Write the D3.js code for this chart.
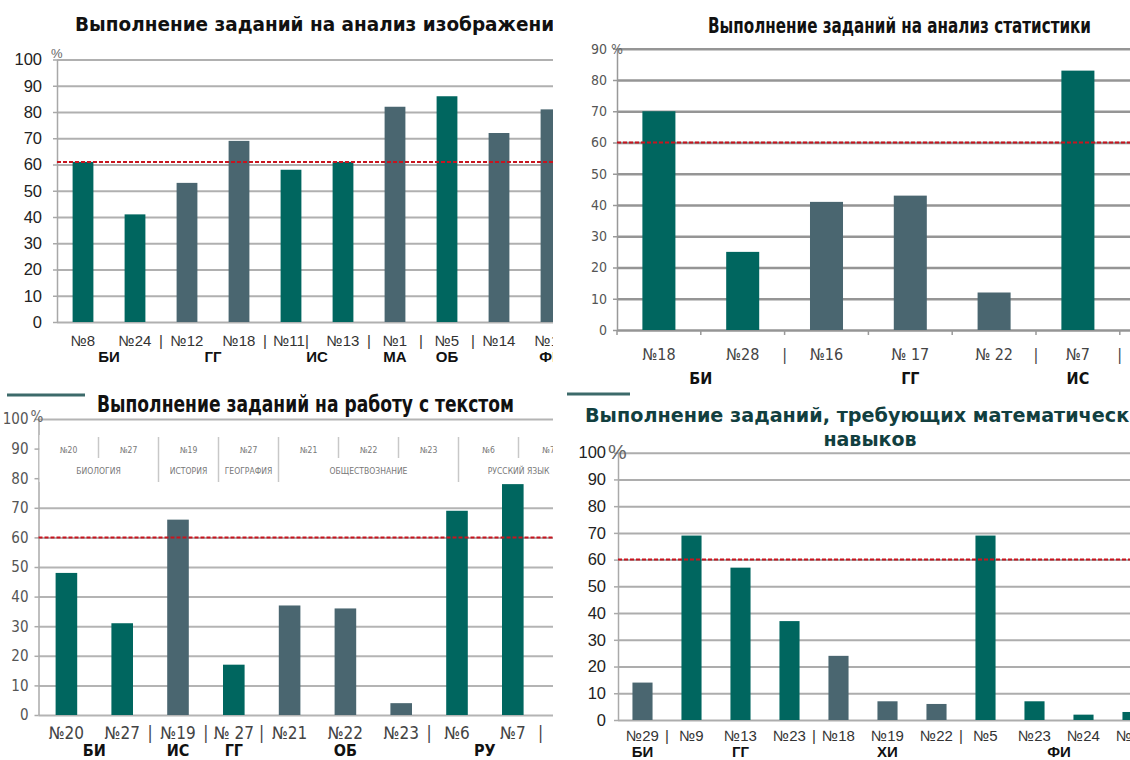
<!DOCTYPE html>
<html>
<head>
<meta charset="utf-8">
<script src="https://cdn.jsdelivr.net/npm/d3@7"></script>
<style>
  body { margin: 0; background: #fff; }
  svg { display: block; }
  text { white-space: pre; }
</style>
</head>
<body>
<svg id="chart" width="1130" height="760"></svg>
<script>
// --- data: анализ изображений
const imgTasks = ["№8", "№24", "№12", "№18", "№11|", "№13", "№1", "№5", "№14", "№16"]
const imgValues = [61, 41, 53, 69, 58, 61, 82, 86, 72, 81]
const imgGroups = [["БИ", 0, 1], ["ГГ", 2, 3], ["ИС", 4, 5], ["МА", 6, 6], ["ОБ", 7, 7], ["ФИ", 8, 10]]
const imgSeps = [2, 4, 6, 7, 8]
const imgLine = 61

// --- data: анализ статистики
const statTasks = ["№18", "№28", "№16", "№ 17", "№ 22", "№7"]
const statValues = [70, 25, 41, 43, 12, 83]
const statGroups = [["БИ", 0, 1], ["ГГ", 2, 4], ["ИС", 5, 5]]
const statSeps = [2, 5, 6]
const statLine = 60

// --- data: работа с текстом
const textTasks = ["№20", "№27", "№19", "№ 27", "№21", "№22", "№23", "№6", "№7"]
const textValues = [48, 31, 66, 17, 37, 36, 4, 69, 78]
const textGroups = [["БИ", 0, 1], ["ИС", 2, 2], ["ГГ", 3, 3], ["ОБ", 4, 6], ["РУ", 7, 8]]
const textSeps = [2, 3, 4, 7, 9]
const textLine = 60
const textTableTasks = ["№20", "№27", "№19", "№27", "№21", "№22", "№23", "№6", "№7"]
const textTableSubjects = [["БИОЛОГИЯ", 0, 1], ["ИСТОРИЯ", 2, 2], ["ГЕОГРАФИЯ", 3, 3], ["ОБЩЕСТВОЗНАНИЕ", 4, 6], ["РУССКИЙ ЯЗЫК", 7, 8]]

// --- data: математические навыки
const mathTasks = ["№29", "№9", "№13", "№23", "№18", "№19", "№22", "№5", "№23", "№24", "№25"]
const mathValues = [14, 69, 57, 37, 24, 7, 6, 69, 7, 2, 3]
const mathGroups = [["БИ", 0, 0], ["ГГ", 1, 3], ["ХИ", 4, 6], ["ФИ", 7, 10]]
const mathSeps = [1, 4, 7]
const mathLine = 60

const svg = d3.select("#chart")
const TEAL = "#00665f", SLATE = "#4a6670", RED = "#c8141e"
const ARIAL = "'Liberation Sans', Arial, sans-serif"
const NARROW = "'Liberation Sans Narrow', 'DejaVu Sans Condensed', 'Arial Narrow', sans-serif"
const VERDANA = "'DejaVu Sans', Verdana, sans-serif"

function drawPanel(p) {
    const clipId = "clip-" + p.id
    svg.append("clipPath").attr("id", clipId).append("rect")
        .attr("x", p.clip[0]).attr("y", p.clip[1])
        .attr("width", p.clip[2]).attr("height", p.clip[3])
    const g = svg.append("g").attr("clip-path", `url(#${clipId})`)
    const right = p.clip[0] + p.clip[2]

    const y = d3.scaleLinear().domain([0, p.yMax]).range([p.yBottom, p.yTop])
    const x = d3.scaleBand().domain(d3.range(p.bands))
        .range([p.left, p.left + p.bands * p.step])
        .paddingInner(p.pad).paddingOuter(p.pad / 2)
    const ticks = d3.range(0, p.yMax + 1, 10)

    // gridlines and tick labels
    const grid = g.append("g").attr("transform", `translate(${p.left},0)`)
        .call(d3.axisLeft(y).tickValues(ticks).tickSize(-(right - p.left)).tickPadding(p.tickPad))
    grid.select(".domain").remove()
    grid.selectAll(".tick line").attr("stroke", p.gridColor).attr("stroke-width", p.gridWidth)
    grid.selectAll(".tick text")
        .attr("font-family", p.tickFont).attr("font-size", p.tickSize).attr("fill", p.tickColor)

    // little outer ticks + axis line
    const ax = g.append("g").attr("transform", `translate(${p.left},0)`)
        .call(d3.axisLeft(y).tickValues(ticks).tickSize(4).tickSizeOuter(0).tickFormat(""))
    ax.selectAll("line, path").attr("stroke", p.axisColor).attr("stroke-width", 1.5)

    // table overlay (only the text panel has one)
    if (p.table) p.table(g, x)

    // percent sign
    g.append("text").attr("x", p.left + p.pct[0]).attr("y", y(p.yMax) + p.pct[1])
        .attr("font-family", p.pctFont || ARIAL).attr("font-size", p.pct[2]).attr("fill", "#666")
        .text("%")

    // bars
    const groupOf = i => p.groups.findIndex(gr => i >= gr[1] && i <= gr[2])
    g.selectAll("rect.bar").data(p.values).join("rect")
        .attr("class", "bar")
        .attr("x", (d, i) => x(i)).attr("width", x.bandwidth())
        .attr("y", d => y(d)).attr("height", d => y(0) - y(d))
        .attr("fill", (d, i) => (groupOf(i) + p.colorStart) % 2 === 0 ? TEAL : SLATE)

    // bottom tick marks
    if (p.bottomTicks) {
        g.selectAll("line.bt").data(d3.range(p.bands + 1)).join("line")
            .attr("x1", k => p.left + k * p.step).attr("x2", k => p.left + k * p.step)
            .attr("y1", y(0)).attr("y2", y(0) + 5)
            .attr("stroke", p.axisColor).attr("stroke-width", 1.5)
    }

    // threshold
    g.append("line").attr("x1", p.left).attr("x2", right)
        .attr("y1", y(p.line)).attr("y2", y(p.line))
        .attr("stroke", RED).attr("stroke-width", 2).attr("stroke-dasharray", "4,2")

    // task labels
    g.selectAll("text.task").data(p.tasks).join("text")
        .attr("class", "task")
        .attr("x", (d, i) => x(i) + x.bandwidth() / 2).attr("y", p.labelY)
        .attr("text-anchor", "middle")
        .attr("font-family", p.labelFont).attr("font-size", p.labelSize).attr("fill", p.labelColor)
        .text(d => d)
    g.selectAll("text.sep").data(p.seps).join("text")
        .attr("class", "sep")
        .attr("x", k => p.left + k * p.step).attr("y", p.labelY)
        .attr("text-anchor", "middle")
        .attr("font-family", p.labelFont).attr("font-size", p.labelSize).attr("fill", p.labelColor)
        .text("|")
    g.selectAll("text.grp").data(p.groups).join("text")
        .attr("class", "grp")
        .attr("x", d => (x(d[1]) + x(d[2]) + x.bandwidth()) / 2).attr("y", p.groupY)
        .attr("text-anchor", "middle")
        .attr("font-family", p.labelFont).attr("font-weight", "bold")
        .attr("font-size", p.groupSize).attr("fill", "#111")
        .text(d => d[0])

    // title
    p.title.forEach(t => {
        const tx = g.append("text").attr("x", t.x).attr("y", t.y)
            .attr("text-anchor", t.anchor || "start")
            .attr("font-family", t.font).attr("font-weight", "bold")
            .attr("font-size", t.size).attr("fill", t.color || "#111")
            .text(t.text)
        if (t.len) tx.attr("textLength", t.len).attr("lengthAdjust", "spacingAndGlyphs")
    })
    if (p.rule) {
        g.append("line").attr("x1", p.rule[0]).attr("x2", p.rule[1])
            .attr("y1", p.rule[2]).attr("y2", p.rule[2])
            .attr("stroke", "#3c6a6a").attr("stroke-width", 3)
    }
}

// top-left
drawPanel({
    id: "img", clip: [0, 0, 553, 380],
    tasks: imgTasks, values: imgValues, groups: imgGroups, seps: imgSeps, line: imgLine,
    colorStart: 0, bands: 11, left: 57, step: 52, pad: 0.6,
    yMax: 100, yBottom: 322, yTop: 59.5,
    gridColor: "#b0b0b0", gridWidth: 2, axisColor: "#a8a8a8",
    tickFont: ARIAL, tickSize: 16.5, tickColor: "#222", tickPad: 15,
    pct: [-6, -2, 13],
    labelFont: ARIAL, labelSize: 15, labelColor: "#333", labelY: 346, groupY: 362, groupSize: 15,
    title: [{ text: "Выполнение заданий на анализ изображений", x: 75, y: 31, font: VERDANA, size: 19.5, len: 492 }]
})

// top-right
drawPanel({
    id: "stat", clip: [560, 0, 570, 390],
    tasks: statTasks, values: statValues, groups: statGroups, seps: statSeps, line: statLine,
    colorStart: 0, bands: 6, left: 617, step: 83.8, pad: 0.606,
    yMax: 90, yBottom: 330, yTop: 48.75,
    gridColor: "#959595", gridWidth: 2.5, axisColor: "#999", bottomTicks: true,
    tickFont: NARROW, tickSize: 14, tickColor: "#555", tickPad: 10,
    pct: [-6, 5, 14], pctFont: NARROW,
    labelFont: NARROW, labelSize: 16, labelColor: "#444", labelY: 360, groupY: 384, groupSize: 16,
    title: [{ text: "Выполнение заданий на анализ статистики", x: 708, y: 33, font: NARROW, size: 21, len: 383 }]
})

// bottom-left
drawPanel({
    id: "text", clip: [0, 385, 553, 375],
    tasks: textTasks, values: textValues, groups: textGroups, seps: textSeps, line: textLine,
    colorStart: 0, bands: 9, left: 38.5, step: 55.8, pad: 0.613,
    yMax: 100, yBottom: 715, yTop: 419,
    gridColor: "#b4b4b4", gridWidth: 2, axisColor: "#aaa",
    tickFont: NARROW, tickSize: 15, tickColor: "#555", tickPad: 10,
    pct: [-8, 3, 15], pctFont: NARROW,
    labelFont: NARROW, labelSize: 17, labelColor: "#444", labelY: 739, groupY: 756, groupSize: 16,
    title: [{ text: "Выполнение заданий на работу с текстом", x: 97, y: 412, font: NARROW, size: 23, len: 417 }],
    rule: [7, 85, 395],
    table: (g, x) => {
        const col = 60, top = 435, bottom = 482, left = 38.5
        g.append("rect").attr("x", left + 1).attr("y", top).attr("width", 553 - left).attr("height", bottom - top)
            .attr("fill", "#fff")
        const cx = i => left + col * (i + 0.5)
        g.selectAll("text.tt").data(textTableTasks).join("text")
            .attr("class", "tt").attr("x", (d, i) => cx(i)).attr("y", top + 18)
            .attr("text-anchor", "middle").attr("font-family", NARROW).attr("font-size", 8.5)
            .attr("fill", "#777").text(d => d)
        g.selectAll("text.ts").data(textTableSubjects).join("text")
            .attr("class", "ts").attr("x", d => (cx(d[1]) + cx(d[2])) / 2).attr("y", top + 39)
            .attr("text-anchor", "middle").attr("font-family", NARROW).attr("font-size", 8.5)
            .attr("fill", "#777").text(d => d[0])
        const subjectEnds = textTableSubjects.map(d => d[2] + 1)
        g.selectAll("line.tl").data(d3.range(1, textTableTasks.length)).join("line")
            .attr("class", "tl")
            .attr("x1", k => left + k * col).attr("x2", k => left + k * col)
            .attr("y1", top + 2).attr("y2", k => subjectEnds.includes(k) ? bottom : top + 23)
            .attr("stroke", "#c8c8c8").attr("stroke-width", 1.5)
    }
})

// bottom-right
drawPanel({
    id: "math", clip: [565, 390, 565, 370],
    tasks: mathTasks, values: mathValues, groups: mathGroups, seps: mathSeps, line: mathLine,
    colorStart: 1, bands: 11, left: 618, step: 49, pad: 0.59,
    yMax: 100, yBottom: 720, yTop: 452.7,
    gridColor: "#adadad", gridWidth: 2, axisColor: "#aaa",
    tickFont: ARIAL, tickSize: 16.5, tickColor: "#222", tickPad: 12,
    pct: [-10, 6, 21],
    labelFont: ARIAL, labelSize: 15, labelColor: "#333", labelY: 741, groupY: 757, groupSize: 15,
    title: [
        { text: "Выполнение заданий, требующих математических", x: 870, y: 422, anchor: "middle", font: VERDANA, size: 19, len: 570, color: "#123f3f" },
        { text: "навыков", x: 870, y: 446, anchor: "middle", font: VERDANA, size: 19, color: "#123f3f" }
    ],
    rule: [567, 630, 394]
})
</script>
</body>
</html>
